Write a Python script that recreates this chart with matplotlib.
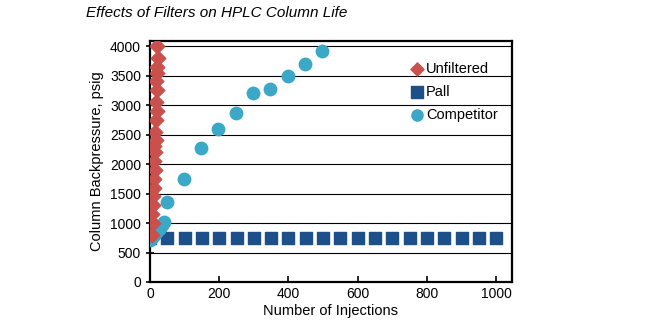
import matplotlib.pyplot as plt

plt.rcParams['font.family'] = ['Liberation Sans', 'DejaVu Sans']

# 필터별 컬럼 배압 데이터
unf_x = [5, 8, 7, 10, 9, 12, 11, 14, 12, 15, 13, 16, 14, 17, 19, 17, 20, 18, 21, 19, 22, 20]
unf_y = [800, 1000, 1150, 1300, 1450, 1600, 1750, 1900, 2050, 2200, 2300, 2400,
         2550, 2750, 2900, 3050, 3250, 3400, 3550, 3650, 3800, 4000]

pall_x = [0, 50, 100, 150, 200, 250, 300, 350, 400, 450, 500, 550, 600, 650,
          700, 750, 800, 850, 900, 950, 1000]
pall_y = [740] * len(pall_x)

comp_x = [0, 3, 6, 9, 12, 15, 18, 21, 24, 27, 30, 35, 40, 49, 98, 147, 196,
          248, 297, 346, 398, 447, 496]
comp_y = [720, 740, 760, 780, 800, 820, 840, 860, 880, 900, 920, 960, 1010,
          1350, 1750, 2270, 2590, 2870, 3200, 3280, 3490, 3690, 3910]

fig = plt.figure(figsize=(6.52, 3.26), dpi=100)
ax = fig.add_axes([0.230, 0.135, 0.555, 0.739])

ax.scatter(pall_x, pall_y, marker='s', s=80, color='#1d4f88', label='Pall', zorder=3)
ax.scatter(comp_x, comp_y, marker='o', s=80, color='#3aa8c6', label='Competitor', zorder=4)
ax.scatter(unf_x, unf_y, marker='D', s=55, color='#c9504d', label='Unfiltered', zorder=5)

ax.set_xlim(0, 1045)
ax.set_ylim(0, 4085)
ax.set_xticks(range(0, 1001, 200))
ax.set_yticks(range(0, 4001, 500))
ax.yaxis.grid(True, color='black', linewidth=0.8)
ax.set_axisbelow(True)
for s in ax.spines.values():
    s.set_linewidth(1.6)
ax.tick_params(axis='x', direction='in', length=4, width=1.2, labelsize=10)
ax.tick_params(axis='y', direction='inout', length=6, width=1.2, labelsize=10)

ax.set_xlabel('Number of Injections', fontsize=10.5, labelpad=2)
ax.set_ylabel('Column Backpressure, psig', fontsize=10.5, labelpad=4)

handles, labels = ax.get_legend_handles_labels()
order = [2, 0, 1]
ax.legend([handles[i] for i in order], [labels[i] for i in order],
          loc='upper right', bbox_to_anchor=(0.99, 0.955), frameon=False,
          fontsize=10.5, handlelength=1.0, handletextpad=0.1, labelspacing=0.6,
          markerscale=0.9, borderaxespad=0.3)

fig.text(0.132, 0.96, 'Effects of Filters on HPLC Column Life', fontsize=11,
         style='italic', va='center', ha='left')

fig.savefig('out.png', dpi=100)
